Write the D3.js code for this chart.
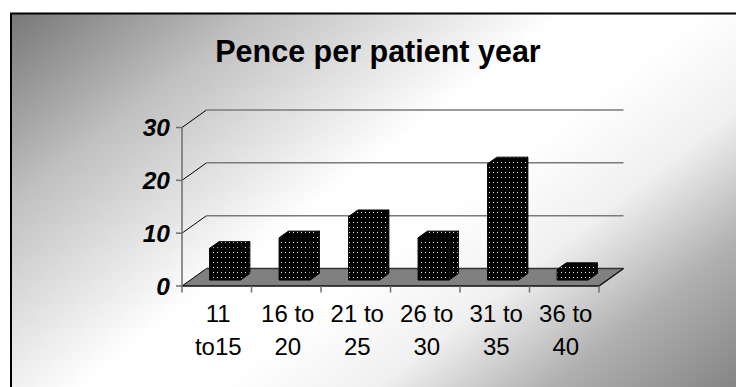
<!DOCTYPE html>
<html>
<head>
<meta charset="utf-8">
<script src="https://cdn.jsdelivr.net/npm/d3@7/dist/d3.min.js"></script>
<style>
  html, body { margin: 0; padding: 0; background: #ffffff; overflow: hidden; }
  svg { display: block; font-family: "Liberation Sans", Arial, sans-serif; }
</style>
</head>
<body>
<svg id="chart" width="736" height="387"></svg>
<script>
// Age bands (two text lines each) and cost in pence per patient year
const categories = ["11 to15", "16 to 20", "21 to 25", "26 to 30", "31 to 35", "36 to 40"];
const labelLines = [["11", "to15"], ["16 to", "20"], ["21 to", "25"], ["26 to", "30"], ["31 to", "35"], ["36 to", "40"]];
const values = [6, 8, 12, 8, 22, 2];
const yTicks = [0, 10, 20, 30];
const title = "Pence per patient year";

const svg = d3.select("#chart");
const defs = svg.append("defs");

// Diagonal grey-white-grey chart area fill
const grad = defs.append("linearGradient")
  .attr("id", "bgGrad").attr("gradientUnits", "userSpaceOnUse")
  .attr("x1", 11).attr("y1", 13).attr("x2", 471.6).attr("y2", 609.5);
[[0, "#777777"], [0.2, "#c0c0c0"], [0.39, "#f0f0f0"], [0.45, "#ffffff"], [0.56, "#ffffff"],
 [0.69, "#f0f0f0"], [0.83, "#b0b0b0"], [0.97, "#888888"], [1, "#808080"]]
  .forEach(([o, c]) => grad.append("stop").attr("offset", o).attr("stop-color", c));

// Black fill with a fine white dot grid for the columns
const pat = defs.append("pattern")
  .attr("id", "dots").attr("patternUnits", "userSpaceOnUse")
  .attr("width", 4).attr("height", 5);
pat.append("rect").attr("width", 4).attr("height", 5).attr("fill", "#000");
pat.append("rect").attr("x", 1).attr("y", 2).attr("width", 1).attr("height", 1).attr("fill", "#e8e8e8");

// Chart area with border (runs past the right and bottom edges)
svg.append("rect")
  .attr("x", 11).attr("y", 13.5).attr("width", 740).attr("height", 385)
  .attr("fill", "url(#bgGrad)").attr("stroke", "#000").attr("stroke-width", 2);

// Title
svg.append("text")
  .attr("x", 378).attr("y", 62)
  .attr("text-anchor", "middle")
  .attr("font-size", 30.5).attr("font-weight", "bold")
  .attr("fill", "#000")
  .text(title);

// Scales for the front plane of the plot
const x = d3.scaleBand().domain(categories).range([182, 599])
  .paddingInner(0.554).paddingOuter(0.277);
const y = d3.scaleLinear().domain([0, 30]).range([286, 127.5]);

// Oblique depth projection: z = 0 front, z = 1 back wall
const depth = { dx: 24.5, dy: -17.5 };
const P = (px, py, z) => [px + z * depth.dx, py + z * depth.dy];
const poly = pts => "M" + pts.map(p => p.join(",")).join("L") + "Z";

const x0 = x.range()[0], x1 = x.range()[1];

// Floor
svg.append("path")
  .attr("d", poly([P(x0, y(0), 0), P(x1, y(0), 0), P(x1, y(0), 1), P(x0, y(0), 1)]))
  .attr("fill", "#808080").attr("stroke", "none");

// Back-wall gridlines and side-wall diagonals
const grid = svg.append("g");
yTicks.forEach(t => {
  const a = P(x0, y(t), 0), b = P(x0, y(t), 1), c = P(x1, y(t), 1);
  grid.append("line")
    .attr("x1", a[0]).attr("y1", a[1]).attr("x2", b[0]).attr("y2", b[1])
    .attr("stroke", "#000").attr("stroke-width", 1);
  grid.append("line")
    .attr("x1", b[0]).attr("y1", b[1]).attr("x2", c[0]).attr("y2", c[1])
    .attr("stroke", t === 0 ? "#333" : "#7a7a7a").attr("stroke-width", 1.5);
});

// Floor front and right edges
const fr = [P(x0, y(0), 0), P(x1, y(0), 0), P(x1, y(0), 1)];
svg.append("path").attr("d", "M" + fr.map(p => p.join(",")).join("L"))
  .attr("fill", "none").attr("stroke", "#111").attr("stroke-width", 1.5);

// Value axis
const yAxis = svg.append("g");
yAxis.append("line")
  .attr("x1", x0).attr("x2", x0).attr("y1", y(30)).attr("y2", y(0))
  .attr("stroke", "#6e6e6e").attr("stroke-width", 1.5);
yAxis.selectAll(".tk").data(yTicks).join("line")
  .attr("x1", x0 - 6).attr("x2", x0).attr("y1", d => y(d)).attr("y2", d => y(d))
  .attr("stroke", "#6e6e6e").attr("stroke-width", 1.5);
yAxis.selectAll("text").data(yTicks).join("text")
  .attr("x", 170).attr("y", d => y(d) + 8.7)
  .attr("text-anchor", "end")
  .attr("font-size", 24.5).attr("font-weight", "bold").attr("font-style", "italic")
  .attr("fill", "#000")
  .text(d => d);

// Category axis ticks (at band boundaries)
const bounds = [x0].concat(categories.map(c => x(c) - x.step() * x.paddingInner() / 2 + x.step()));
svg.append("g").selectAll("line").data(bounds).join("line")
  .attr("x1", d => d).attr("x2", d => d).attr("y1", y(0)).attr("y2", y(0) + 6.5)
  .attr("stroke", "#6e6e6e").attr("stroke-width", 1.5);

// Category labels
const lab = svg.append("g").selectAll("text").data(categories).join("text")
  .attr("text-anchor", "middle").attr("font-size", 24).attr("fill", "#000");
lab.each(function (c, i) {
  const cx = x(c) + x.bandwidth() / 2 + 1.5;
  d3.select(this).selectAll("tspan").data(labelLines[i]).join("tspan")
    .attr("x", cx).attr("y", (d, j) => 321.5 + j * 33.5)
    .text(d => d);
});

// 3D columns: front, side and top faces
const zf = 0.34, zb = 0.72;
const bars = svg.append("g").selectAll("g").data(categories).join("g");
bars.each(function (c, i) {
  const g = d3.select(this);
  const l = x(c), r = x(c) + x.bandwidth();
  const t = y(values[i]), b = y(0);
  const faces = [
    [P(l, t, zf), P(r, t, zf), P(r, t, zb), P(l, t, zb)],   // top
    [P(r, t, zf), P(r, b, zf), P(r, b, zb), P(r, t, zb)],   // side
    [P(l, t, zf), P(r, t, zf), P(r, b, zf), P(l, b, zf)]    // front
  ];
  faces.forEach(f => g.append("path").attr("d", poly(f))
    .attr("fill", "url(#dots)").attr("stroke", "#000").attr("stroke-width", 1)
    .attr("stroke-linejoin", "round"));
});
</script>
</body>
</html>
